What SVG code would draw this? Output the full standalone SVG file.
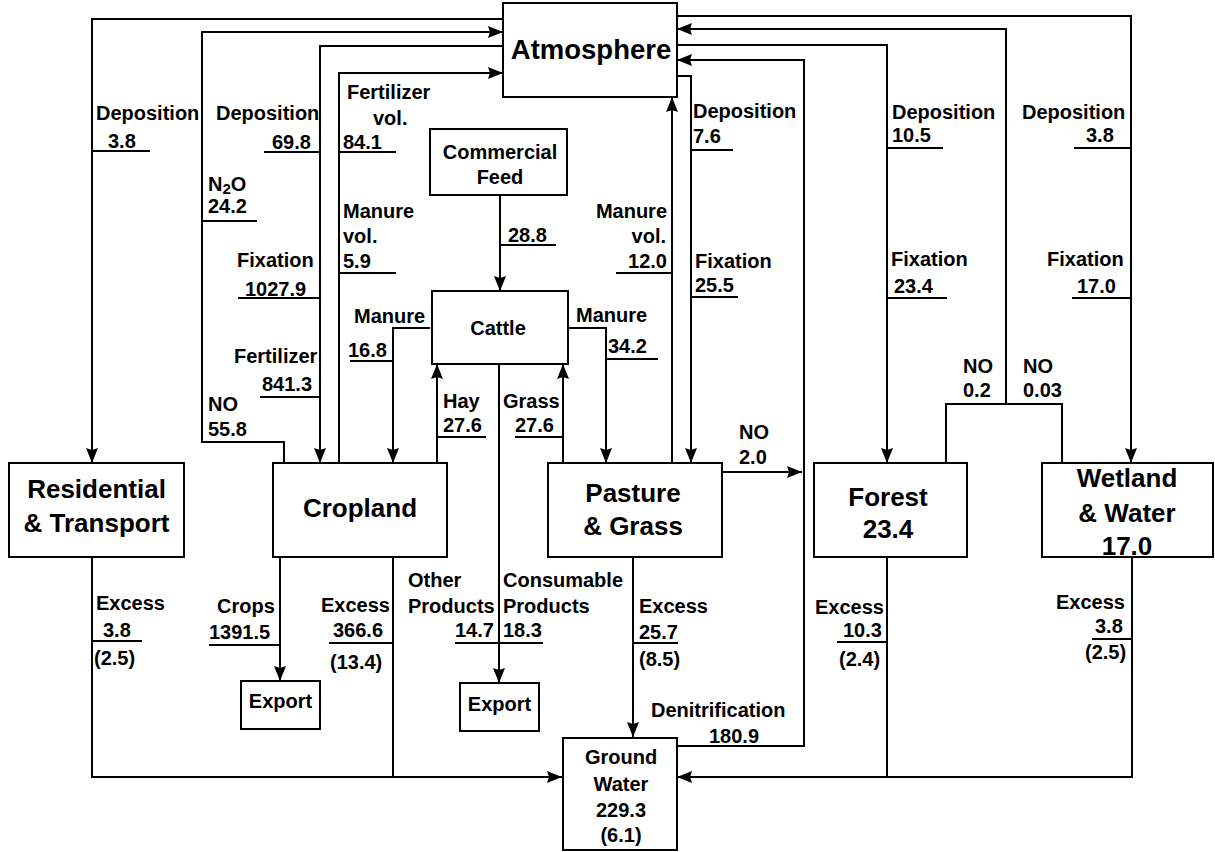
<svg xmlns="http://www.w3.org/2000/svg" width="1215" height="852" viewBox="0 0 1215 852">
<defs>
<marker id="arr" viewBox="0 0 15 12" refX="15" refY="6" markerWidth="15" markerHeight="12" markerUnits="userSpaceOnUse" orient="auto">
<path d="M0,0 L15,6 L0,12 L2,6 z" fill="#000"/>
</marker>
<style>
rect{fill:#fff;stroke:#000;stroke-width:2}
.c path,.c line{fill:none;stroke:#000;stroke-width:2}
.a{marker-end:url(#arr)}
text{font-family:"Liberation Sans",Arial,sans-serif;font-weight:bold;fill:#000}
.l{font-size:20px}
.n{font-size:26px;text-anchor:middle}
.s{font-size:20px;text-anchor:middle}
.e{text-anchor:end}
</style>
</defs>
<rect x="0" y="0" width="1215" height="852" style="fill:#fff;stroke:none"/>
<g class="c" id="connectors">
<path class="a" d="M503,19 H92 V463"/>
<path class="a" d="M284,463 V442 H202 V32 H503"/>
<path class="a" d="M503,46 H320 V463"/>
<path class="a" d="M339,463 V73 H503"/>
<path class="a" d="M430,328 H393 V463"/>
<path class="a" d="M500,195 V291"/>
<path class="a" d="M437,463 V364"/>
<path class="a" d="M563,463 V364"/>
<path class="a" d="M568,328 H606 V463"/>
<path class="a" d="M672,463 V97"/>
<path class="a" d="M677,76 H691 V463"/>
<path class="a" d="M722,472 H802"/>
<path class="a" d="M677,746 H804 V60 H677"/>
<path class="a" d="M677,45 H887 V463"/>
<path class="a" d="M677,16 H1131 V463"/>
<path class="a" d="M946,463 V404 H1062 V463 M1006,404 V29 H677"/>
<path class="a" d="M499,364 V683"/>
<path class="a" d="M280,557 V681"/>
<path class="a" d="M633,557 V737"/>
<path class="a" d="M393,557 V777 M92,557 V777 H562"/>
<path class="a" d="M887,557 V777 M1132,557 V777 H677"/>
<line x1="92" y1="151" x2="150" y2="151"/>
<line x1="264" y1="152" x2="320" y2="152"/>
<line x1="202" y1="221" x2="257" y2="221"/>
<line x1="339" y1="152" x2="396" y2="152"/>
<line x1="339" y1="273" x2="396" y2="273"/>
<line x1="238" y1="298" x2="320" y2="298"/>
<line x1="260" y1="397" x2="320" y2="397"/>
<line x1="350" y1="361" x2="393" y2="361"/>
<line x1="500" y1="245" x2="556" y2="245"/>
<line x1="616" y1="273" x2="672" y2="273"/>
<line x1="691" y1="150" x2="733" y2="150"/>
<line x1="691" y1="297" x2="738" y2="297"/>
<line x1="606" y1="359" x2="658" y2="359"/>
<line x1="437" y1="437" x2="486" y2="437"/>
<line x1="515" y1="437" x2="563" y2="437"/>
<line x1="887" y1="148" x2="943" y2="148"/>
<line x1="1074" y1="148" x2="1131" y2="148"/>
<line x1="887" y1="298" x2="947" y2="298"/>
<line x1="1072" y1="298" x2="1131" y2="298"/>
<line x1="92" y1="641" x2="142" y2="641"/>
<line x1="209" y1="645" x2="280" y2="645"/>
<line x1="329" y1="643" x2="393" y2="643"/>
<line x1="455" y1="643" x2="543" y2="643"/>
<line x1="633" y1="643" x2="678" y2="643"/>
<line x1="837" y1="642" x2="887" y2="642"/>
<line x1="1092" y1="639" x2="1132" y2="639"/>
</g>
<g id="atmosphere"><rect x="503" y="3" width="174" height="94"/><text x="591" y="59" style="font-size:27.5px;text-anchor:middle">Atmosphere</text></g>
<g id="commercial-feed"><rect x="430" y="129" width="137" height="66"/><text class="s" x="500" y="159">Commercial</text><text class="s" x="500" y="184">Feed</text></g>
<g id="cattle"><rect x="432" y="291" width="136" height="73"/><text class="s" x="498" y="335">Cattle</text></g>
<g id="residential"><rect x="9" y="463" width="175" height="94"/><text class="n" x="96.5" y="498">Residential</text><text class="n" x="96.5" y="532">&amp; Transport</text></g>
<g id="cropland"><rect x="273" y="463" width="174" height="94"/><text class="n" x="360" y="517">Cropland</text></g>
<g id="pasture"><rect x="548" y="463" width="174" height="94"/><text class="n" x="633" y="502">Pasture</text><text class="n" x="633" y="535">&amp; Grass</text></g>
<g id="forest"><rect x="814" y="463" width="153" height="94"/><text class="n" x="888" y="506">Forest</text><text class="n" x="888" y="538">23.4</text></g>
<g id="wetland"><rect x="1042" y="463" width="171" height="94"/><text class="n" x="1127" y="487">Wetland</text><text class="n" x="1127" y="522">&amp; Water</text><text class="n" x="1127" y="555">17.0</text></g>
<g id="export-crops"><rect x="241" y="681" width="79" height="48"/><text class="s" x="280.5" y="708">Export</text></g>
<g id="export-products"><rect x="460" y="683" width="79" height="48"/><text class="s" x="499.5" y="711">Export</text></g>
<g id="ground-water"><rect x="563" y="738" width="114" height="112"/><text class="s" x="621" y="764">Ground</text><text class="s" x="621" y="791">Water</text><text class="s" x="621" y="817">229.3</text><text class="s" x="621" y="842">(6.1)</text></g>
<g id="labels" class="l">
<text class="l" x="96" y="120">Deposition</text><text class="l" x="108" y="148">3.8</text>
<text class="l" x="216" y="120">Deposition</text><text class="l" x="272" y="149">69.8</text>
<text class="l" x="208" y="191">N<tspan style="font-size:15px" dy="3">2</tspan><tspan dy="-3">O</tspan></text><text class="l" x="208" y="213">24.2</text>
<text class="l" x="347" y="99">Fertilizer</text><text class="l" x="373" y="125">vol.</text><text class="l" x="343" y="149">84.1</text>
<text class="l" x="343" y="218">Manure</text><text class="l" x="343" y="243">vol.</text><text class="l" x="343" y="268">5.9</text>
<text class="l" x="237" y="267">Fixation</text><text class="l" x="245" y="296">1027.9</text>
<text class="l" x="234" y="363">Fertilizer</text><text class="l" x="262" y="391">841.3</text>
<text class="l" x="208" y="411">NO</text><text class="l" x="208" y="436">55.8</text>
<text class="l" x="354" y="323">Manure</text><text class="l" x="348" y="357">16.8</text>
<text class="l" x="508" y="242">28.8</text>
<text class="l e" x="667" y="218">Manure</text><text class="l e" x="666" y="243">vol.</text><text class="l e" x="667" y="268">12.0</text>
<text class="l" x="693" y="118">Deposition</text><text class="l" x="693" y="143">7.6</text>
<text class="l" x="695" y="268">Fixation</text><text class="l" x="695" y="292">25.5</text>
<text class="l" x="576" y="322">Manure</text><text class="l" x="608" y="353">34.2</text>
<text class="l" x="443" y="408">Hay</text><text class="l" x="443" y="432">27.6</text>
<text class="l" x="503" y="408">Grass</text><text class="l" x="515" y="432">27.6</text>
<text class="l" x="739" y="439">NO</text><text class="l" x="739" y="464">2.0</text>
<text class="l" x="892" y="119">Deposition</text><text class="l" x="892" y="142">10.5</text>
<text class="l" x="1022" y="119">Deposition</text><text class="l" x="1086" y="142">3.8</text>
<text class="l" x="891" y="266">Fixation</text><text class="l" x="894" y="293">23.4</text>
<text class="l" x="1047" y="266">Fixation</text><text class="l" x="1077" y="293">17.0</text>
<text class="l" x="963" y="373">NO</text><text class="l" x="963" y="397">0.2</text>
<text class="l" x="1023" y="373">NO</text><text class="l" x="1023" y="397">0.03</text>
<text class="l" x="96" y="610">Excess</text><text class="l" x="103" y="637">3.8</text><text class="l" x="94" y="665">(2.5)</text>
<text class="l" x="217" y="613">Crops</text><text class="l" x="209" y="639">1391.5</text>
<text class="l" x="321" y="612">Excess</text><text class="l" x="333" y="637">366.6</text><text class="l" x="330" y="669">(13.4)</text>
<text class="l" x="408" y="587">Other</text><text class="l" x="408" y="613">Products</text><text class="l" x="455" y="637">14.7</text>
<text class="l" x="503" y="587">Consumable</text><text class="l" x="503" y="613">Products</text><text class="l" x="503" y="637">18.3</text>
<text class="l" x="639" y="613">Excess</text><text class="l" x="639" y="639">25.7</text><text class="l" x="639" y="666">(8.5)</text>
<text class="l" x="651" y="717">Denitrification</text><text class="l" x="709" y="743">180.9</text>
<text class="l" x="815" y="614">Excess</text><text class="l" x="843" y="637">10.3</text><text class="l" x="839" y="666">(2.4)</text>
<text class="l" x="1056" y="609">Excess</text><text class="l" x="1095" y="633">3.8</text><text class="l" x="1085" y="659">(2.5)</text>
</g>
</svg>
